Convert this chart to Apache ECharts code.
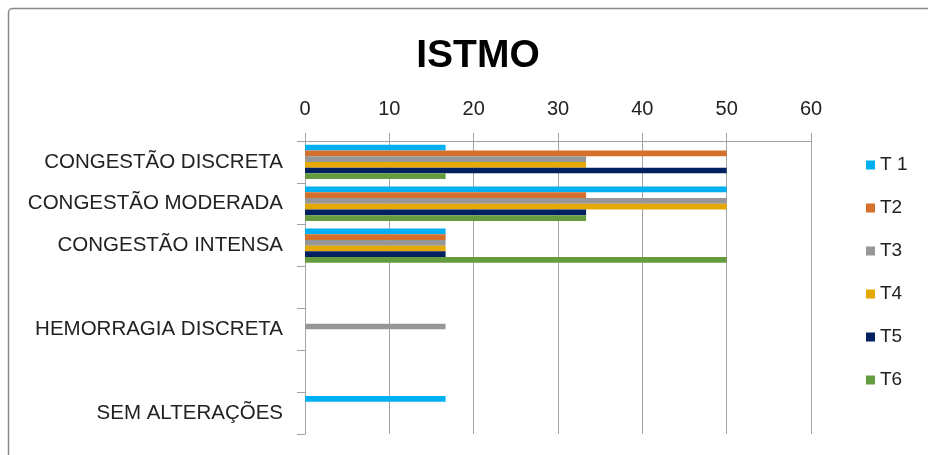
<!DOCTYPE html>
<html>
<head>
<meta charset="utf-8">
<script src="https://cdn.jsdelivr.net/npm/echarts@6/dist/echarts.min.js"></script>
<style>
  html, body { margin: 0; padding: 0; background: #fff; }
  #chart { width: 928px; height: 455px; }
</style>
</head>
<body>
<div id="chart"></div>
<script>
// Lesion categories, top to bottom (two unlabeled spacer rows)
const categories = ['CONGESTÃO DISCRETA', 'CONGESTÃO MODERADA', 'CONGESTÃO INTENSA', ' ', 'HEMORRAGIA DISCRETA', '  ', 'SEM ALTERAÇÕES'];

// Percentage of samples per treatment
const seriesNames = ['T 1', 'T2', 'T3', 'T4', 'T5', 'T6'];
const t1 = [16.67, 50, 16.67, null, null, null, 16.67];
const t2 = [50, 33.33, 16.67, null, null, null, null];
const t3 = [33.33, 50, 16.67, null, 16.67, null, null];
const t4 = [33.33, 50, 16.67, null, null, null, null];
const t5 = [50, 33.33, 16.67, null, null, null, null];
const t6 = [16.67, 33.33, 50, null, null, null, null];

const xTicks = { min: 0, max: 60, interval: 10 };
const colors = ['#00B0F0', '#D4702C', '#979797', '#E5A900', '#00205F', '#659C3E'];

const values = [t1, t2, t3, t4, t5, t6];
const font = 'Liberation Sans, Arial, sans-serif';
const lineCol = '#A3A3A3';

const chart = echarts.init(document.getElementById('chart'), null, { renderer: 'canvas' });
chart.setOption({
  animation: false,
  backgroundColor: '#fff',
  title: {
    text: 'ISTMO',
    left: 473,
    top: 32,
    textAlign: 'center',
    textStyle: { fontFamily: font, fontSize: 39, fontWeight: 'bold', color: '#000' }
  },
  graphic: [{
    type: 'rect',
    shape: { x: 8.5, y: 8.5, width: 1000, height: 1000, r: 4 },
    style: { fill: 'none', stroke: '#878787', lineWidth: 1.5 },
    silent: true
  }],
  legend: {
    orient: 'vertical',
    left: 861,
    top: 150,
    itemWidth: 9,
    itemHeight: 9,
    itemGap: 23,
    icon: 'rect',
    data: seriesNames,
    textStyle: { fontFamily: font, fontSize: 19, color: '#222', lineHeight: 20 }
  },
  grid: { left: 305, right: 117, top: 141, bottom: 21, containLabel: false },
  xAxis: {
    type: 'value',
    position: 'top',
    min: xTicks.min,
    max: xTicks.max,
    interval: xTicks.interval,
    axisLine: { show: true, lineStyle: { color: lineCol, width: 1 } },
    axisTick: { show: true, length: 8, lineStyle: { color: lineCol } },
    axisLabel: { margin: 22, fontFamily: font, fontSize: 20, color: '#222' },
    splitLine: { show: true, lineStyle: { color: lineCol, width: 1 } }
  },
  yAxis: {
    type: 'category',
    inverse: true,
    data: categories,
    axisLine: { show: true, lineStyle: { color: lineCol, width: 1 } },
    axisTick: { show: true, length: 8, alignWithLabel: false, lineStyle: { color: lineCol } },
    axisLabel: { margin: 22, fontFamily: font, fontSize: 20.5, color: '#222', interval: 0 },
    splitLine: { show: false }
  },
  series: seriesNames.map((name, i) => ({
    name: name,
    type: 'bar',
    data: values[i],
    barGap: '0%',
    barCategoryGap: '18%',
    itemStyle: { color: colors[i] }
  }))
});
</script>
</body>
</html>
